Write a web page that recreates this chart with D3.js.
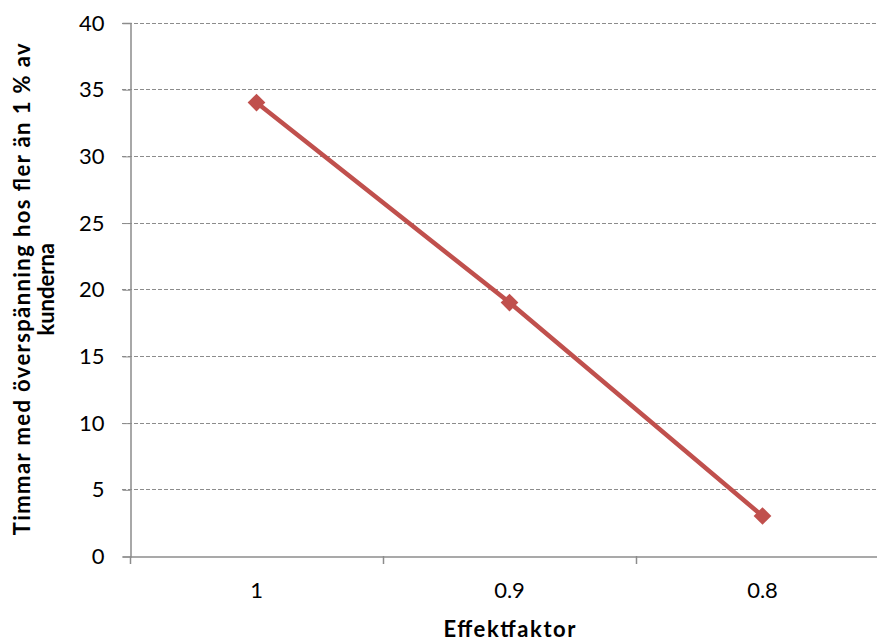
<!DOCTYPE html>
<html>
<head>
<meta charset="utf-8">
<script src="https://cdn.jsdelivr.net/npm/d3@7"></script>
<style>
  body { margin: 0; background: #fff; }
  text { font-family: "Lato", "Open Sans", sans-serif; fill: #000; }
</style>
</head>
<body>
<div class="chart"></div>
<script>
var svgWidth = 877;
var svgHeight = 642;

// data
var categories = ["1", "0.9", "0.8"];
var hours = [34, 19, 3];
var yTicks = [0, 5, 10, 15, 20, 25, 30, 35, 40];

var margin = {top: 22.5, left: 130, bottom: 86};
var plotRight = 889;   // plot area runs past the window edge

var svg = d3.select(".chart")
  .append("svg")
  .attr("width", svgWidth)
  .attr("height", svgHeight);

var xScale = d3.scaleBand()
  .domain(categories)
  .range([margin.left, plotRight]);

var yScale = d3.scaleLinear()
  .domain([0, 40])
  .range([svgHeight - margin.bottom, margin.top]);

// gridlines
svg.append("g")
  .selectAll("line")
  .data(yTicks.filter(d => d > 0))
  .enter()
  .append("line")
  .attr("x1", margin.left - 8)
  .attr("x2", plotRight)
  .attr("y1", d => Math.round(yScale(d)) + 0.5)
  .attr("y2", d => Math.round(yScale(d)) + 0.5)
  .attr("stroke", "#8c8c8c")
  .attr("stroke-width", 1)
  .attr("stroke-dasharray", "4,2");

// y axis
var leftAxis = d3.axisLeft(yScale).tickValues(yTicks).tickSize(8).tickPadding(18);
var yAxis = svg.append("g")
  .attr("transform", `translate(${margin.left + 0.5}, 0.5)`)
  .call(leftAxis);
yAxis.attr("font-size", null).attr("font-family", null);
yAxis.select(".domain").attr("stroke", "#8c8c8c").attr("stroke-width", 1.5);
yAxis.selectAll(".tick line").attr("stroke", "#8c8c8c");
yAxis.selectAll("text").style("font-size", "22px").attr("fill", "#000");

// x axis
var bottomAxis = d3.axisBottom(xScale).tickSize(0).tickPadding(26);
var xAxis = svg.append("g")
  .attr("transform", `translate(0, ${yScale(0) + 0.5})`)
  .call(bottomAxis);
xAxis.attr("font-size", null).attr("font-family", null);
xAxis.select(".domain").attr("stroke", "#8c8c8c").attr("stroke-width", 1.5);
xAxis.selectAll("text").style("font-size", "22px").attr("fill", "#000");

// tick marks between categories
var bounds = categories.map(c => xScale(c)).concat([plotRight]);
svg.append("g")
  .selectAll("line")
  .data(bounds)
  .enter()
  .append("line")
  .attr("x1", d => Math.round(d) + 0.5)
  .attr("x2", d => Math.round(d) + 0.5)
  .attr("y1", yScale(0))
  .attr("y2", yScale(0) + 8)
  .attr("stroke", "#8c8c8c")
  .attr("stroke-width", 1.5);

// line
var line = d3.line()
  .x((d, i) => xScale(categories[i]) + xScale.bandwidth() / 2)
  .y(d => yScale(d));

svg.append("path")
  .datum(hours)
  .attr("d", line)
  .attr("fill", "none")
  .attr("stroke", "#c0504d")
  .attr("stroke-width", 4.5)
  .attr("stroke-linejoin", "round");

// diamond markers
svg.append("g")
  .selectAll("path")
  .data(hours)
  .enter()
  .append("path")
  .attr("d", d3.symbol().type(d3.symbolDiamond2).size(200))
  .attr("transform", (d, i) =>
    `translate(${xScale(categories[i]) + xScale.bandwidth() / 2}, ${yScale(d)})`)
  .attr("fill", "#c0504d");

// axis titles
svg.append("text")
  .attr("x", xScale("0.9") + xScale.bandwidth() / 2)
  .attr("y", 637)
  .attr("text-anchor", "middle")
  .attr("textLength", 132)
  .style("font-size", "22px")
  .style("font-weight", "bold")
  .text("Effektfaktor");

var ylab = svg.append("text")
  .attr("transform", `translate(0, ${yScale(20)}) rotate(-90)`)
  .attr("text-anchor", "middle")
  .style("font-size", "22px")
  .style("font-weight", "bold");
ylab.append("tspan")
  .attr("x", 0)
  .attr("y", 30)
  .attr("textLength", 492)
  .text("Timmar med överspänning hos fler än 1 % av");
ylab.append("tspan")
  .attr("x", 0)
  .attr("y", 54)
  .text("kunderna");
</script>
</body>
</html>
